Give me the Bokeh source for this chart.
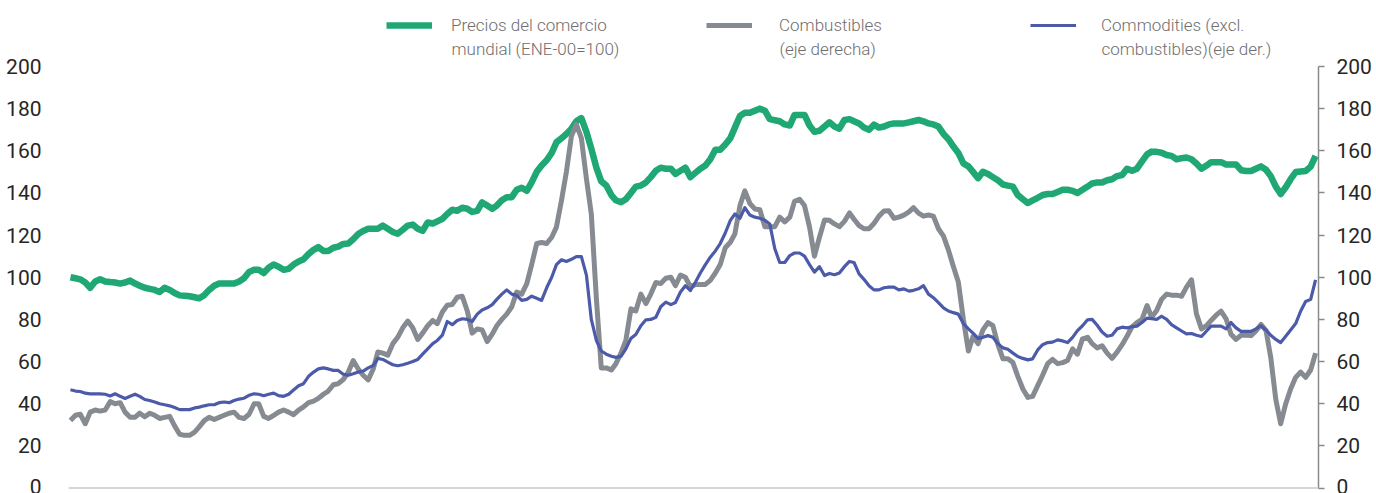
import pandas as pd
from bokeh.plotting import figure
from bokeh.models import (Range1d, LinearAxis, FixedTicker, Span, Legend,
                          LegendItem, ColumnDataSource, Label)
from bokeh.embed import file_html
from bokeh.resources import INLINE

# ---------------- data (monthly, ENE-2000 .. DIC-2020) ----------------
fecha_inicio = "2000-01-01"
n_meses = 252

comercio = [
    100, 99.5, 99, 97.5, 95, 98, 99, 98, 97.7, 97.5, 97, 97.5, 98.4, 97, 96, 95, 94.5, 94, 93, 95,
    94, 92.5, 91.4, 91.2, 91, 90.5, 90, 91.5, 94, 96, 97, 97, 97, 97, 98, 99.5, 102.5, 103.5, 103.5, 102,
    104.5, 106, 105,
    103.5, 104, 106, 107.5, 108.5, 111, 113, 114.3, 112.5, 112.5, 114, 114.5, 115.8, 116, 118, 120.5,
    122, 123, 123, 123, 124.5, 123, 121.5, 120.6, 122.5, 124.5, 125, 123, 122, 126, 125.5, 126.5,
    127.7, 130, 132, 131.5, 133, 132.5, 131, 131.5, 135.5, 134,
    132.5, 134, 136.5, 138, 138, 141.5, 142.5, 141, 145, 150, 153, 155.5, 159, 164, 166, 168, 170.5,
    174, 175.5, 169, 161, 152, 145.5, 143.5, 139, 136.5, 135.6, 137, 140, 143, 143.5, 145, 147.5,
    150.5, 152, 151.5, 151.5, 149, 150.5, 152, 147.5, 149.5,
    151.5, 153, 156, 160.5, 160.5, 163, 166, 171, 176.5, 178, 178, 179, 180, 179, 175, 174.5, 174,
    172.5, 172, 177, 177, 177, 172, 169, 169.5, 171.5, 173.5, 171.5, 170.5, 174.6, 175, 174, 173, 171,
    170, 172.4, 171, 171.5, 172.5, 173, 173, 173,
    173.5, 174, 174.6, 174, 173, 172.5, 171.5, 168, 165.5, 162, 159, 154, 152.6, 150, 147, 150, 149,
    147.5, 146, 144, 143.5, 143, 139, 137, 135.2, 136.5, 137.7, 139, 139.5, 139.5, 140.5, 141.5, 141.5,
    141, 140, 141.5, 143, 144.5, 145, 145, 146, 146.5, 148,
    148.5, 151.5, 150.5, 151.5, 155, 158.3, 159.6, 159.5, 159.1, 158, 157.6, 156, 156.5, 156.8, 156,
    154, 151.5, 153, 154.6, 154.6, 154.6, 153.5, 153.5, 153.5, 150.8, 150.4, 150.4, 151.5, 152.6, 151,
    148, 143, 139.5, 142.7, 146.5, 149.9, 150.2, 150.4, 152.5, 157.6,
]

combustibles = [
    32, 34.5, 35, 30.5, 36, 37, 36.5, 37, 41, 40, 40.5, 36, 33.6, 33.6, 35.5, 33.8, 35.5, 34.5, 33, 33.5,
    34, 29.5, 25.5, 25, 25, 26.5, 29, 32, 33.6, 32.5, 33.5, 34.5, 35.5, 36, 33.5, 33, 35, 40, 40, 34,
    33, 34.5, 36,
    37, 36, 34.8, 37, 38.5, 40.5, 41.2, 42.5, 44.5, 46, 49, 49.5, 51.5, 55, 60.5, 56.5, 53.5, 51.3,
    56.5, 64.5, 64, 63, 68.5, 71.5, 76, 79.2, 76, 70.5, 73.5, 77, 79.5, 78, 83.5, 86.7, 87.1, 90.5,
    91, 84, 73.5, 75.5, 75,
    69.5, 73, 77, 80, 82.5, 86, 93, 92, 97, 106, 116, 116.5, 116, 119, 123.8, 136.4, 150, 167, 172.5,
    166, 146.7, 130, 90, 57, 57, 56, 59, 64, 70, 85, 84, 92, 87.5, 92, 97.5, 97, 99.5, 100, 96, 101,
    100, 95.5, 96.5,
    96.6, 96.6, 98.5, 102, 106, 114, 116.6, 120.6, 134, 141, 135, 132.4, 132, 124, 124, 124, 128.5,
    126.3, 128.5, 136, 137, 134, 123.8, 110, 119, 127.2, 127, 125.3, 124, 126.5, 130.5, 127.5, 124.5,
    123, 123, 125.5, 129, 131.4, 131.5, 128, 128.5, 129.5,
    131, 133, 130.4, 129, 129.5, 129, 123, 119.5, 113, 105, 97.7, 80, 65, 71.9, 68.5, 75, 78.5, 77, 68,
    61.3, 61.3, 59.5, 53, 47, 43, 43.5, 48.6, 53.5, 59, 61, 59, 59.5, 60.5, 66, 63.5, 70.8, 71.5, 68.5,
    66.5, 67.5, 64, 61.5, 64.5,
    68, 72, 76.5, 78.5, 80, 86.6, 81, 84.2, 89.5, 92, 91.5, 91.5, 91, 95.3, 98.8, 82.6, 75.5, 77, 79.5,
    82, 83.9, 80.3, 73, 70.5, 72.5, 72.5, 72.3, 74.5, 77.6, 74.7, 62, 42, 30.5, 40, 47, 52.5, 55, 52.5,
    56, 64,
]

commodities = [
    46.6, 46, 45.8, 45, 44.7, 44.7, 44.7, 44.5, 43.7, 44.7, 43.5, 42.5, 43.5, 44.5, 43.5, 42, 41.5, 40.8,
    40, 39.5, 39, 38.2, 37.2, 37.2, 37.2, 38, 38.4, 39, 39.5, 39.5, 40.5, 40.8, 40.5, 41.5, 42.2, 42.6,
    44, 44.7, 44.5, 43.8, 44.5, 45, 43.8,
    43.5, 44.5, 46.5, 48.5, 49.5, 53, 55, 56.5, 57, 56.5, 55.8, 55.8, 54, 53.5, 54.2, 55, 55.5, 57, 58.1,
    61.5, 61, 59.7, 58.5, 58, 58.5, 59.2, 60, 61, 63.5, 66, 68.5, 70, 72.5, 79, 77.5, 79.5, 80.3, 80, 79,
    82.5, 84.5,
    85.5, 87, 89.5, 92, 94, 92, 91.4, 89, 89.5, 91, 90, 89, 95, 100, 106, 108.3, 107.5, 108.5, 109.8,
    109.8, 101, 80, 70, 65, 63.5, 62.5, 62, 62.5, 66, 71, 72.8, 77, 79.8, 80, 81, 86, 88.2, 87, 88, 93,
    96, 93.7, 97.5,
    102, 106, 109.5, 112.5, 116, 121, 127, 130, 128, 133, 129.5, 128.5, 128, 127, 125.3, 113.5, 107,
    107, 110.3, 111.5, 111.5, 110, 106, 102.4, 105, 100.8, 101.8, 101.2, 102, 105, 107.5, 107, 101.6,
    99, 96, 94, 94, 95, 95.3, 95.3, 94, 94.5,
    93.4, 93.8, 94.5, 96, 92, 90.3, 88, 85.5, 84, 83.2, 82.5, 78, 75.5, 73.5, 71, 71.5, 72.3, 71.5, 68.5,
    66.5, 65.8, 64, 62.4, 61.5, 60.8, 61.3, 65.5, 68, 69, 69.2, 70.3, 69.8, 69, 71.5, 74.7, 77, 79.8, 80,
    77.2, 74, 72, 72.5, 75.5,
    76.3, 76, 76.5, 76.8, 78.5, 80.6, 80.3, 80, 81.5, 80, 77.5, 76, 74.5, 73.1, 73.3, 72.5, 71.9, 74.5,
    76.8, 76.8, 76.8, 75.5, 78.5, 76, 74.3, 74.3, 74.3, 75.5, 77, 75, 72.5, 70.5, 69, 72, 75, 78, 84,
    88.5, 89.5, 98.8,
]

y_ticks = [0, 20, 40, 60, 80, 100, 120, 140, 160, 180, 200]

label_comercio = ["Precios del comercio", "mundial (ENE-00=100)"]
label_combustibles = ["Combustibles", "(eje derecha)"]
label_commodities = ["Commodities (excl.", "combustibles)(eje der.)"]

# ---------------- styling ----------------
GREEN = "#1fa774"
GRAY = "#868a91"
BLUE = "#4b5aa9"
TICK_FONT = "Roboto"
LEG_FONT = "Roboto Light, Roboto"
LEG_COLOR = "#6e6e6e"
W, H = 1376, 493

fechas = pd.date_range(fecha_inicio, periods=n_meses, freq="MS")
src = ColumnDataSource(dict(fecha=fechas, comercio=comercio,
                            combustibles=combustibles, commodities=commodities))

p = figure(width=W, height=H, x_axis_type="datetime", x_axis_location=None,
           output_backend="svg", toolbar_location=None,
           min_border_left=68, min_border_right=58, min_border_top=0, min_border_bottom=0,
           x_range=Range1d(fechas[0] - pd.Timedelta(days=12), fechas[-1] + pd.Timedelta(days=18)),
           y_range=Range1d(-2.6, 231.3))
p.outline_line_color = None
p.grid.visible = False
p.background_fill_color = "white"
p.border_fill_color = "white"

# left axis
ax = p.yaxis[0]
ax.ticker = FixedTicker(ticks=y_ticks)
ax.axis_line_color = None
ax.major_tick_line_color = None
ax.minor_tick_line_color = None
ax.major_label_standoff = 21
ax.major_label_text_font = TICK_FONT
ax.major_label_text_font_size = "21px"
ax.major_label_text_color = "#262626"

# right axis
rax = LinearAxis(ticker=FixedTicker(ticks=y_ticks), bounds=(0, 200))
rax.axis_line_color = "#8a8a8a"
rax.axis_line_width = 1.5
rax.major_tick_line_color = "#8a8a8a"
rax.major_tick_line_width = 1.5
rax.major_tick_in = 0
rax.major_tick_out = 6
rax.minor_tick_line_color = None
rax.major_label_standoff = 12
rax.major_label_text_font = TICK_FONT
rax.major_label_text_font_size = "21px"
rax.major_label_text_color = "#262626"
p.add_layout(rax, "right")

# baseline
p.add_layout(Span(location=0, dimension="width", line_color="#d6d6d6", line_width=2))

r_g = p.line("fecha", "comercio", source=src, line_color=GREEN, line_width=6.5, line_join="round")
r_c = p.line("fecha", "combustibles", source=src, line_color=GRAY, line_width=5, line_join="round")
r_b = p.line("fecha", "commodities", source=src, line_color=BLUE, line_width=3.2, line_join="round")


def add_legend(renderer, lines, x, standoff):
    lg = Legend(items=[LegendItem(label=lines[0], renderers=[renderer])],
                location=(x, 458), orientation="vertical",
                glyph_width=46, glyph_height=20, label_standoff=standoff,
                padding=0, margin=0, spacing=0,
                border_line_alpha=0, background_fill_alpha=0,
                label_text_font=LEG_FONT, label_text_font_size="17px",
                label_text_color=LEG_COLOR, label_text_line_height=1.3)
    p.add_layout(lg, "center")
    p.add_layout(Label(x=x + 46 + standoff, y=445, x_units="screen", y_units="screen",
                       text=lines[1], text_font=LEG_FONT, text_font_size="17px",
                       text_color=LEG_COLOR, text_baseline="middle", text_align="left"))


add_legend(r_g, label_comercio, 318, 19)
add_legend(r_c, label_combustibles, 638, 27)
add_legend(r_b, label_commodities, 962, 25)

open("out.html", "w").write(file_html(p, INLINE))
